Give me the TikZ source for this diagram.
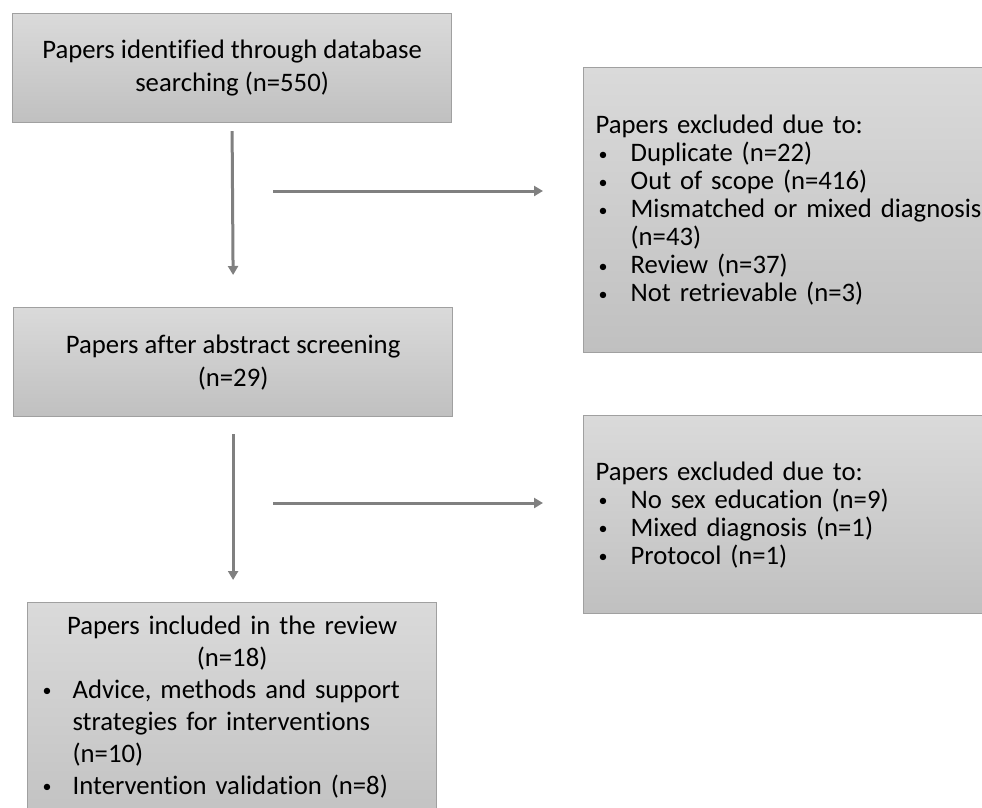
\documentclass[tikz,border=0pt]{standalone}
\usepackage{fontspec}
\setmainfont{Carlito}[Ligatures={NoCommon,NoContextual}]
\usetikzlibrary{arrows.meta}
\definecolor{boxtop}{RGB}{218,218,218}
\definecolor{boxbot}{RGB}{192,192,192}
\definecolor{boxline}{RGB}{160,160,160}
\definecolor{arrowgray}{RGB}{128,128,128}
\tikzset{
  box/.style={draw=boxline, line width=1.2pt, top color=boxtop, bottom color=boxbot, rectangle, inner xsep=12pt, inner ysep=0pt, anchor=north west},
  arr/.style={draw=arrowgray, line width=3pt, -{Triangle[length=9pt,width=10pt]}},
  bigtxt/.style={font=\fontsize{26.7pt}{33pt}\selectfont},
  listtxt/.style={font=\fontsize{26.7pt}{28pt}\selectfont},
  inctxt/.style={font=\fontsize{26.7pt}{32pt}\selectfont}
}
\newcommand{\bul}[1][35pt]{\makebox[#1][l]{\hspace*{3pt}\raisebox{1.5pt}{\fontsize{18pt}{18pt}\selectfont •}}}
\begin{document}
\begin{tikzpicture}[x=1pt,y=-1pt]
\useasboundingbox (0,0) rectangle (982,807);
\fill[white] (0,0) rectangle (982,807);
\clip (0,0) rectangle (982,807);

\node[box, bigtxt, minimum width=439pt, minimum height=109pt, align=center] (b1) at (12,13)
  {Papers identified through database\\searching (n=550)};

\node[box, bigtxt, minimum width=439pt, minimum height=109pt, align=center] (b3) at (13,307)
  {Papers after abstract screening\\(n=29)};

\node[box, listtxt, text width=400pt, minimum height=285pt, align=left] (b2) at (583,67)
  {Papers excluded due to:\\
   \bul Duplicate (n=22)\\
   \bul Out of scope (n=416)\\
   \bul Mismatched or mixed diagnosis\\
   \hspace*{35pt}(n=43)\\
   \bul Review (n=37)\\
   \bul Not retrievable (n=3)};

\node[box, listtxt, text width=400pt, minimum height=198pt, align=left] (b4) at (583,415)
  {Papers excluded due to:\\
   \bul No sex education (n=9)\\
   \bul Mixed diagnosis (n=1)\\
   \bul Protocol (n=1)};

\node[box, inctxt, text width=385pt, inner ysep=13pt, align=left] (b5) at (27,602)
  {\makebox[385pt][c]{Papers included in the review}\\
   \makebox[385pt][c]{(n=18)}\\
   \bul[33pt]Advice, methods and support\\
   \hspace*{33pt}strategies for interventions\\
   \hspace*{33pt}(n=10)\\
   \bul[33pt]Intervention validation (n=8)\\
   \hspace*{33pt}};

\coordinate (h1s) at (273,191);
\coordinate (h1e) at (543,191);
\coordinate (h2s) at (273,503);
\coordinate (h2e) at (543,503);

\draw[arr] ([yshift=-8pt]b1.south) -- ([yshift=32pt]b3.north);
\draw[arr] ([yshift=-17pt]b3.south) -- ([yshift=22pt]b3.south |- b5.north);
\draw[arr] (h1s) -- (h1e);
\draw[arr] (h2s) -- (h2e);
\end{tikzpicture}
\end{document}
